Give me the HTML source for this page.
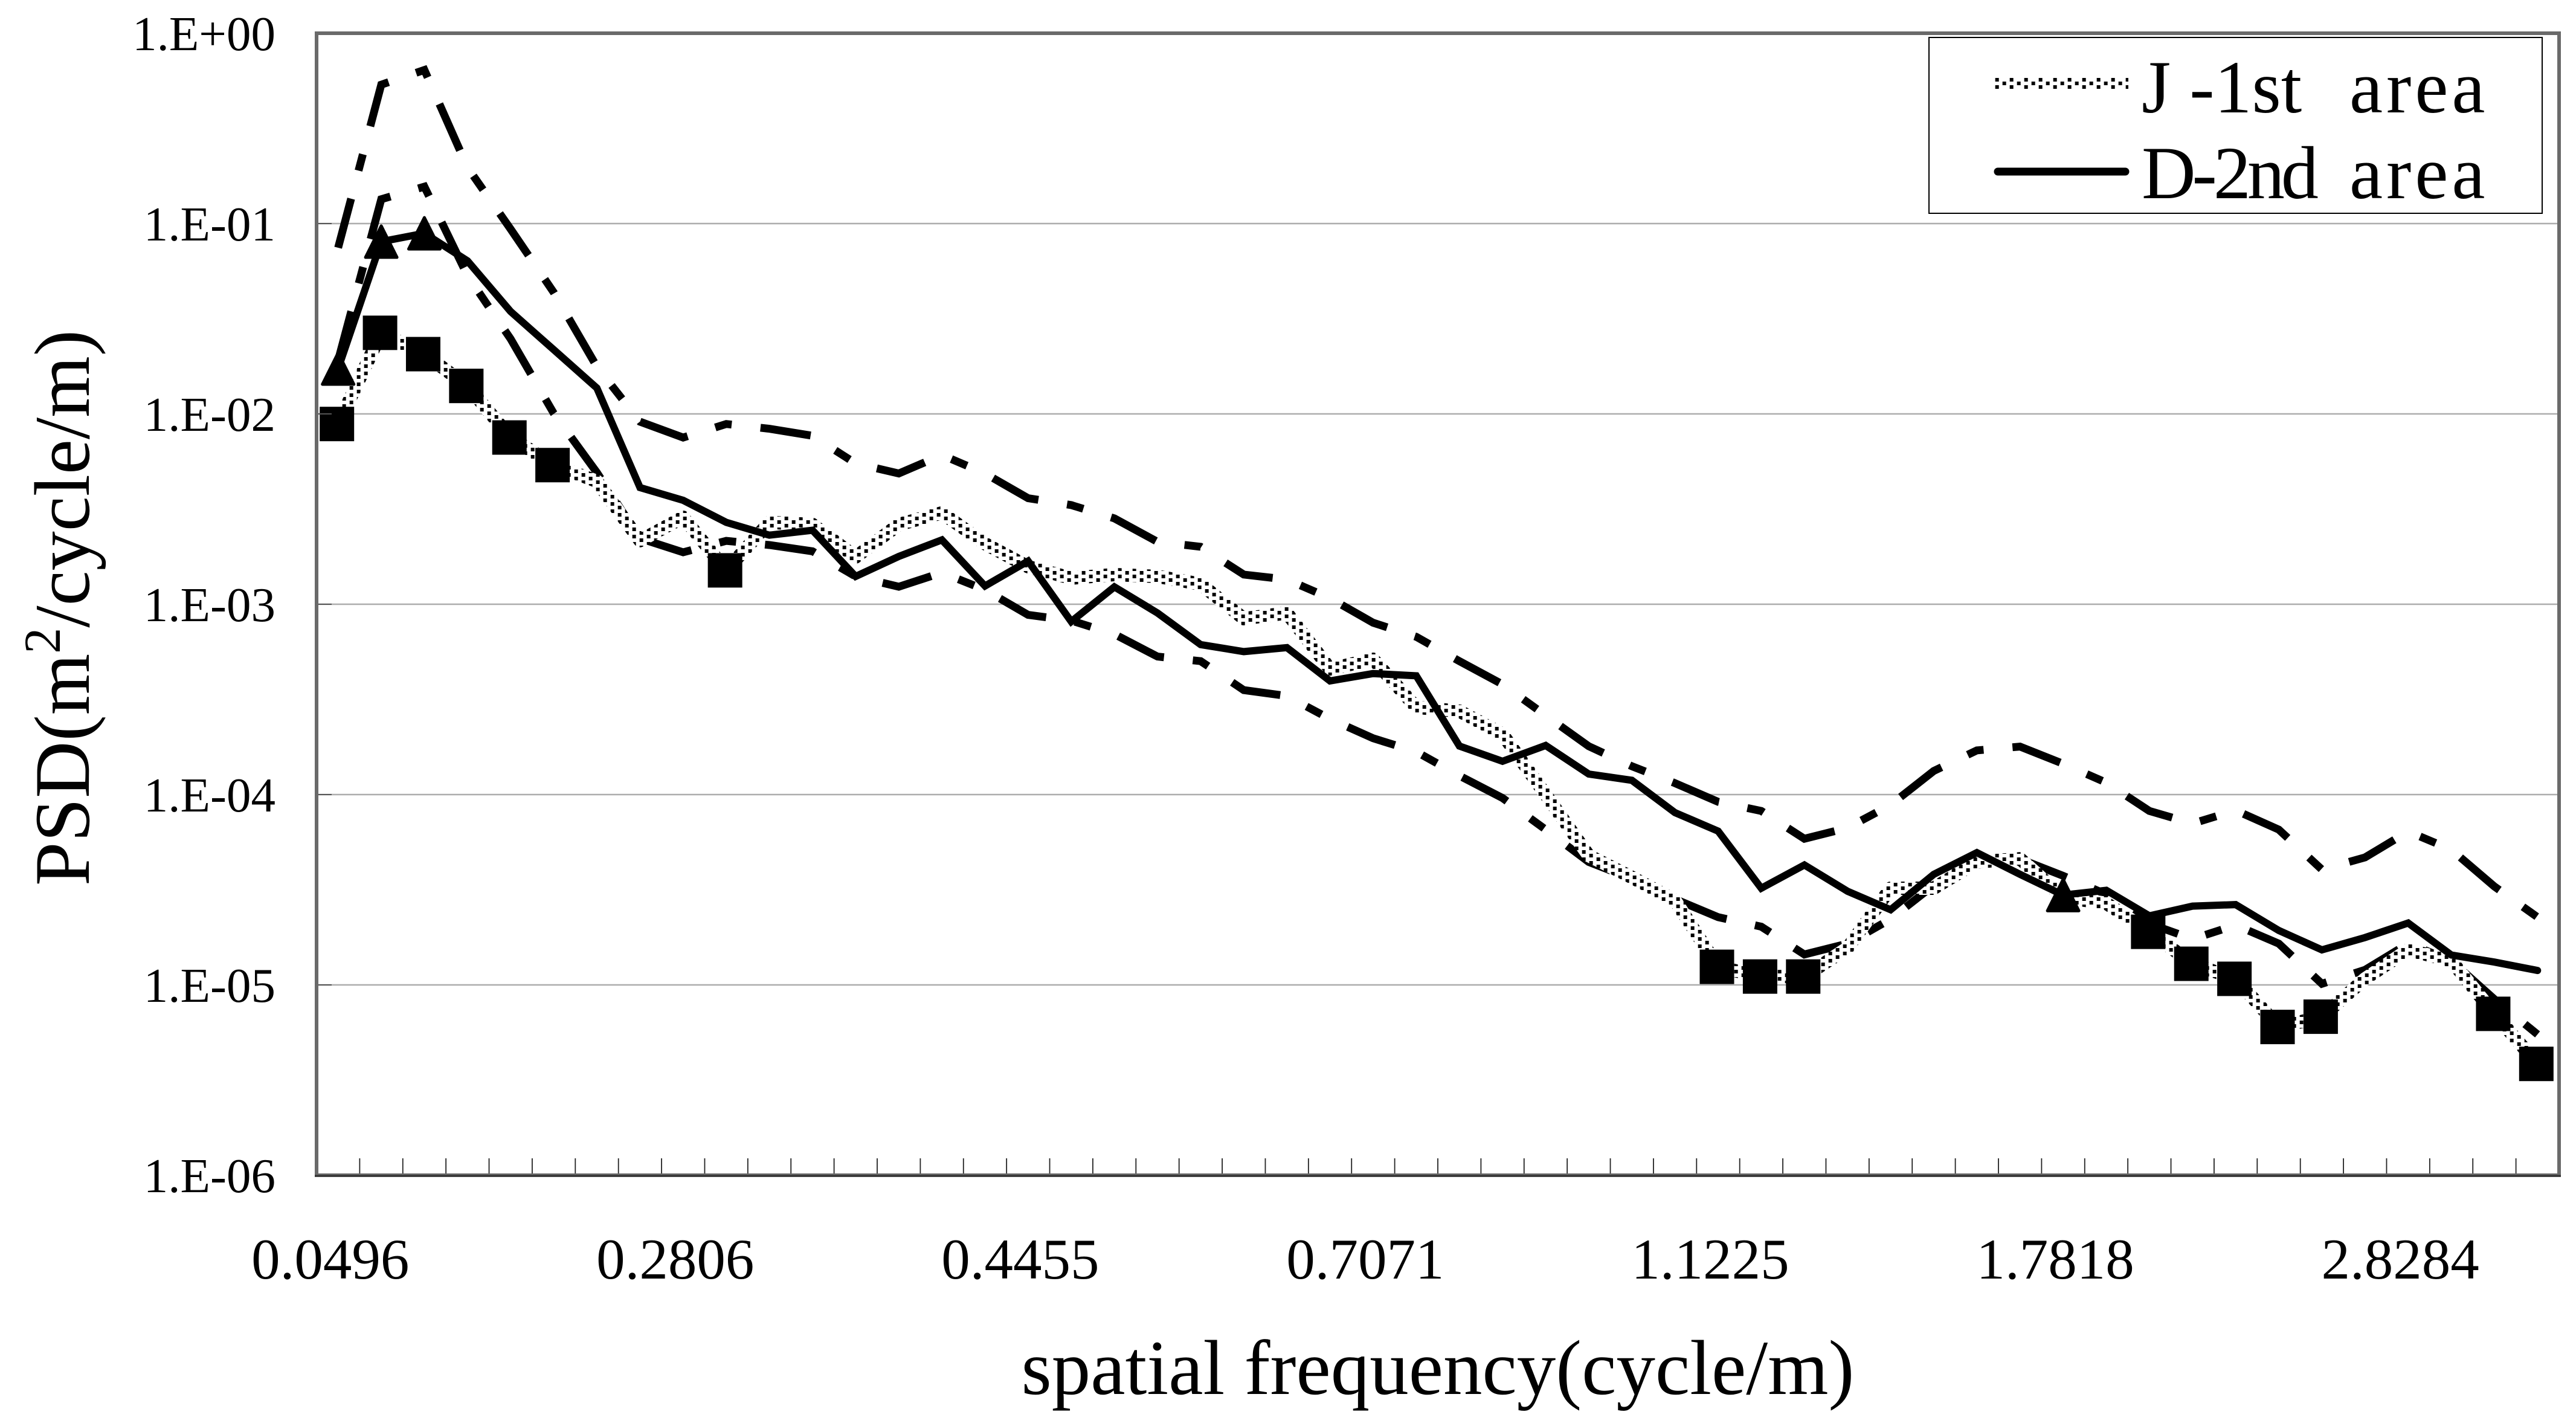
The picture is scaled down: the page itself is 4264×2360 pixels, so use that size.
<!DOCTYPE html>
<html lang="en">
<head>
<meta charset="utf-8">
<title>PSD vs spatial frequency</title>
<style>
html,body{margin:0;padding:0;background:#fff;}
svg{display:block;font-family:"Liberation Serif",serif;fill:#000;}
</style>
</head>
<body>
<svg id="chart" xmlns="http://www.w3.org/2000/svg" width="4264" height="2360" viewBox="0 0 4264 2360">
  <defs>
    <pattern id="checker" width="24" height="12" patternUnits="userSpaceOnUse" patternTransform="translate(1910.67 945)">
      <rect x="0" y="0" width="24" height="12" fill="#fff"/>
      <rect x="0" y="0" width="6" height="6" fill="#000"/>
      <rect x="12" y="6" width="6" height="6" fill="#000"/>
    </pattern>
  </defs>
  <rect x="0" y="0" width="4264" height="2360" fill="#fff"/>
  <g id="grid"></g>
  <g id="series"></g>
  <g id="axes"></g>
  <g id="labels"></g>
  <text x="2380" y="2307" font-size="129" text-anchor="middle">spatial frequency(cycle/m)</text>
  <text transform="translate(147,1006) rotate(-90)" font-size="130.5" text-anchor="middle">PSD(m<tspan dy="-48" font-size="86">2</tspan><tspan dy="48">/cycle/m)</tspan></text>
  <g>
    <rect x="3193" y="62" width="1015" height="291" fill="#fff" stroke="#000" stroke-width="2"/>
    <line x1="3302" y1="138" x2="3523" y2="138" stroke="url(#checker)" stroke-width="18"/>
    <text y="186" font-size="124"><tspan x="3545">J -1st </tspan><tspan x="3889" letter-spacing="6">area</tspan></text>
    <line x1="3307" y1="284" x2="3518" y2="284" stroke="#000" stroke-width="13" stroke-linecap="round"/>
    <text y="328" font-size="124"><tspan x="3545" letter-spacing="-6">D-2nd </tspan><tspan x="3889" letter-spacing="6">area</tspan></text>
  </g>
</svg>
<script>
// Values are log10(PSD), one per spatial-frequency category.
const upperDashDotLog10 = [-1.127,-0.270,-0.193,-0.705,-1.029,-1.362,-1.752,-2.041,-2.124,-2.053,-2.078,-2.115,-2.260,-2.313,-2.216,-2.313,-2.443,-2.479,-2.549,-2.672,-2.698,-2.844,-2.870,-2.968,-3.097,-3.171,-3.299,-3.421,-3.584,-3.746,-3.851,-3.940,-4.038,-4.086,-4.232,-4.175,-4.054,-3.876,-3.768,-3.748,-3.838,-3.937,-4.086,-4.152,-4.083,-4.184,-4.394,-4.330,-4.194,-4.289,-4.483,-4.644];
const lowerDashDotLog10 = [-1.719,-0.872,-0.806,-1.273,-1.606,-1.997,-2.308,-2.654,-2.727,-2.667,-2.689,-2.722,-2.854,-2.908,-2.834,-2.924,-3.056,-3.086,-3.157,-3.275,-3.299,-3.451,-3.482,-3.603,-3.704,-3.775,-3.901,-4.018,-4.184,-4.354,-4.443,-4.549,-4.644,-4.694,-4.840,-4.783,-4.654,-4.476,-4.370,-4.338,-4.427,-4.524,-4.678,-4.759,-4.686,-4.783,-4.994,-4.921,-4.783,-4.872,-5.075,-5.260];
const d2ndAreaLog10 = [-1.762,-1.095,-1.051,-1.196,-1.462,-1.663,-1.864,-2.387,-2.454,-2.570,-2.637,-2.611,-2.854,-2.749,-2.662,-2.904,-2.773,-3.091,-2.909,-3.046,-3.212,-3.249,-3.228,-3.403,-3.364,-3.376,-3.745,-3.825,-3.742,-3.892,-3.925,-4.095,-4.192,-4.492,-4.370,-4.508,-4.605,-4.419,-4.305,-4.419,-4.528,-4.503,-4.637,-4.586,-4.578,-4.714,-4.816,-4.751,-4.675,-4.843,-4.880,-4.924];
const j1stAreaLog10 = [-2.053,-1.574,-1.686,-1.853,-2.124,-2.269,-2.354,-2.666,-2.543,-2.822,-2.570,-2.581,-2.752,-2.581,-2.520,-2.682,-2.803,-2.863,-2.844,-2.854,-2.894,-3.076,-3.046,-3.340,-3.289,-3.542,-3.562,-3.683,-4.000,-4.321,-4.435,-4.556,-4.905,-4.956,-4.956,-4.806,-4.492,-4.492,-4.354,-4.337,-4.540,-4.571,-4.721,-4.889,-4.968,-5.221,-5.167,-4.968,-4.816,-4.873,-5.152,-5.415];
const squareCategories = [0,1,2,3,4,5,9,32,33,34,42,43,44,45,46,50,51];
const triangleCategories = [0,1,2,40];
const yTickLabels = ['1.E+00','1.E-01','1.E-02','1.E-03','1.E-04','1.E-05','1.E-06'];
const xTickLabels = ['0.0496','0.2806','0.4455','0.7071','1.1225','1.7818','2.8284'];
const categoryCount = j1stAreaLog10.length;
const labelEvery = 8;

const NS = 'http://www.w3.org/2000/svg';
const plotLeft = 524, plotRight = 4236, plotTop = 55, plotBottom = 1945;
const decadePx = (plotBottom - plotTop) / (yTickLabels.length - 1);
const catPx = (plotRight - plotLeft) / categoryCount;
function xScale(i) { return plotLeft + (i + 0.5) * catPx; }
function yScale(logValue) { return plotTop - logValue * decadePx; }
function make(tag, attrs, parent) {
  const el = document.createElementNS(NS, tag);
  for (const k in attrs) el.setAttribute(k, attrs[k]);
  parent.appendChild(el);
  return el;
}
function pointsOf(values) {
  return values.map(function (v, i) { return xScale(i).toFixed(1) + ',' + yScale(v).toFixed(1); }).join(' ');
}
const gridG = document.getElementById('grid');
const axesG = document.getElementById('axes');
const labelsG = document.getElementById('labels');
const seriesG = document.getElementById('series');

// grid lines and y tick labels
yTickLabels.forEach(function (label, d) {
  const y = yScale(-d);
  if (d > 0 && d < yTickLabels.length - 1) {
    const line = make('line', {x1: plotLeft, y1: y, x2: plotRight, y2: y, stroke: '#adadad', 'stroke-width': 2.5}, gridG);
    
    
    const tick = make('line', {x1: plotLeft, y1: y, x2: plotLeft + 25, y2: y, stroke: '#555', 'stroke-width': 2}, axesG);
    
    
  }
  const t = make('text', {x: 456, y: y + 28, 'font-size': 81, 'text-anchor': 'end'}, labelsG);
  t.textContent = label;
  
  
});

// x ticks
for (let k = 1; k < categoryCount; k++) {
  const x = plotLeft + k * catPx;
  const tick = make('line', {x1: x, y1: plotBottom - 28, x2: x, y2: plotBottom, stroke: '#222', 'stroke-width': 1.8}, axesG);
  
  
}
xTickLabels.forEach(function (label, n) {
  const x = xScale(n * labelEvery) - 13;
  const t = make('text', {x: x, y: 2116, 'font-size': 95, 'text-anchor': 'middle'}, labelsG);
  t.textContent = label;
  
  
});

// axis frame
const frame = make('rect', {x: plotLeft, y: plotTop, width: plotRight - plotLeft, height: plotBottom - plotTop, fill: 'none', stroke: '#6a6a6a', 'stroke-width': 6}, axesG);


const baseLine = make('line', {x1: plotLeft - 3, y1: plotBottom + 1, x2: plotRight + 3, y2: plotBottom + 1, stroke: '#333', 'stroke-width': 3}, axesG);



// series
const dashDot = '84 48 28 48';
const lower = make('polyline', {points: pointsOf(lowerDashDotLog10), fill: 'none', stroke: '#000', 'stroke-width': 13, 'stroke-dasharray': dashDot, 'stroke-linejoin': 'miter'}, seriesG);


const upper = make('polyline', {points: pointsOf(upperDashDotLog10), fill: 'none', stroke: '#000', 'stroke-width': 13, 'stroke-dasharray': dashDot, 'stroke-linejoin': 'miter'}, seriesG);


const dotted = make('polyline', {points: pointsOf(j1stAreaLog10), fill: 'none', stroke: 'url(#checker)', 'stroke-width': 22, 'stroke-linejoin': 'round'}, seriesG);


squareCategories.forEach(function (i) {
  const s = 57;
  const square = make('rect', {x: xScale(i) - s / 2 - 2, y: yScale(j1stAreaLog10[i]) - s / 2, width: s, height: s, fill: '#000'}, seriesG);
  
  
});
const solid = make('polyline', {points: pointsOf(d2ndAreaLog10), fill: 'none', stroke: '#000', 'stroke-width': 12, 'stroke-linejoin': 'miter', 'stroke-linecap': 'round'}, seriesG);


triangleCategories.forEach(function (i) {
  const s = 52, cx = xScale(i), cy = yScale(d2ndAreaLog10[i]);
  const d = 'M' + cx + ' ' + (cy - s / 2) + 'L' + (cx + s / 2) + ' ' + (cy + s / 2) + 'L' + (cx - s / 2) + ' ' + (cy + s / 2) + 'Z';
  const tri = make('path', {d: d, fill: '#000', stroke: '#000', 'stroke-width': 5, 'stroke-linejoin': 'round'}, seriesG);
  
  
});
</script>
</body>
</html>
